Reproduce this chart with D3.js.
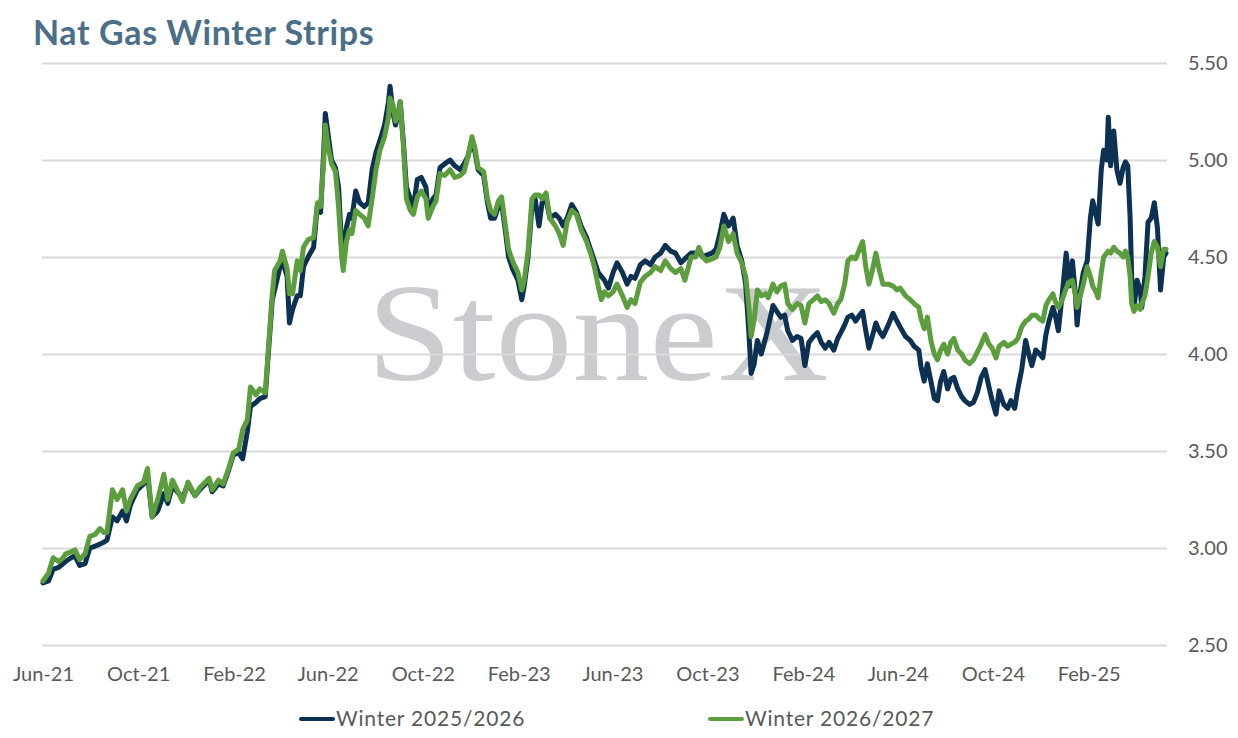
<!DOCTYPE html>
<html>
<head>
<meta charset="utf-8">
<script src="https://cdn.jsdelivr.net/npm/d3@7"></script>
<style>
  body { margin: 0; background: #fff; }
  #chart { width: 1238px; height: 738px; }
  .tick text { font-family: Lato, "Open Sans", sans-serif; fill: #595959; }
</style>
</head>
<body>
<div id="chart"></div>
<script>
// dates of the readings (daily prices at irregular points)
const dates = [
  "2021-06-01","2021-06-08","2021-06-14","2021-06-21","2021-06-27","2021-06-30","2021-07-07","2021-07-12","2021-07-18","2021-07-25","2021-07-31",
  "2021-08-07","2021-08-13","2021-08-18","2021-08-22","2021-08-29","2021-09-04","2021-09-11","2021-09-16","2021-09-21","2021-09-30",
  "2021-10-08","2021-10-13","2021-10-19","2021-10-26","2021-11-03","2021-11-08","2021-11-14","2021-11-20","2021-11-27",
  "2021-12-04","2021-12-13","2021-12-19","2021-12-31",
  "2022-01-04","2022-01-12","2022-01-18","2022-01-25","2022-01-31","2022-02-07","2022-02-12","2022-02-18","2022-02-22",
  "2022-03-01","2022-03-06","2022-03-13","2022-03-16","2022-03-22","2022-03-25","2022-04-01","2022-04-04","2022-04-10","2022-04-13","2022-04-17","2022-04-23","2022-04-27",
  "2022-05-01","2022-05-07","2022-05-14","2022-05-19","2022-05-23","2022-05-27","2022-05-29","2022-06-02","2022-06-06","2022-06-11","2022-06-15","2022-06-19","2022-06-21","2022-06-25","2022-06-29",
  "2022-07-02","2022-07-07","2022-07-12","2022-07-18","2022-07-23","2022-07-28","2022-08-02","2022-08-07","2022-08-13","2022-08-18","2022-08-20","2022-08-24","2022-08-27","2022-08-31",
  "2022-09-02","2022-09-06","2022-09-10","2022-09-15","2022-09-19","2022-09-24","2022-09-29","2022-10-05","2022-10-08","2022-10-14","2022-10-18","2022-10-23","2022-10-29",
  "2022-11-05","2022-11-11","2022-11-18","2022-11-23","2022-11-28","2022-12-03","2022-12-07","2022-12-11","2022-12-18","2022-12-23","2022-12-27",
  "2023-01-01","2023-01-06","2023-01-10","2023-01-15","2023-01-19","2023-01-24","2023-01-31","2023-02-05","2023-02-08","2023-02-13","2023-02-18","2023-02-22","2023-02-27",
  "2023-03-03","2023-03-08","2023-03-13","2023-03-20","2023-03-25","2023-03-30","2023-04-04","2023-04-10","2023-04-16","2023-04-22","2023-04-29",
  "2023-05-04","2023-05-09","2023-05-14","2023-05-18","2023-05-22","2023-05-27","2023-06-02","2023-06-07","2023-06-14","2023-06-20","2023-06-25","2023-06-30",
  "2023-07-07","2023-07-13","2023-07-20","2023-07-26","2023-08-02","2023-08-08","2023-08-15","2023-08-21","2023-08-28",
  "2023-09-02","2023-09-10","2023-09-16","2023-09-20","2023-09-25","2023-09-30","2023-10-07","2023-10-12","2023-10-17","2023-10-22","2023-10-28",
  "2023-11-03","2023-11-08","2023-11-14","2023-11-19","2023-11-23","2023-11-26","2023-11-30","2023-12-04","2023-12-09","2023-12-15","2023-12-18","2023-12-24","2023-12-29",
  "2024-01-03","2024-01-08","2024-01-12","2024-01-18","2024-01-24","2024-01-29","2024-02-03","2024-02-08","2024-02-14","2024-02-19","2024-02-24","2024-02-29",
  "2024-03-05","2024-03-11","2024-03-16","2024-03-20","2024-03-25","2024-03-29","2024-04-03","2024-04-08","2024-04-13","2024-04-17","2024-04-21","2024-04-25","2024-04-30",
  "2024-05-04","2024-05-08","2024-05-13","2024-05-20","2024-05-26","2024-05-31","2024-06-04","2024-06-11","2024-06-17","2024-06-22","2024-06-28",
  "2024-07-01","2024-07-05","2024-07-09","2024-07-14","2024-07-18","2024-07-22","2024-07-26","2024-07-30","2024-08-04","2024-08-08","2024-08-12","2024-08-17","2024-08-22","2024-08-26",
  "2024-09-01","2024-09-06","2024-09-11","2024-09-16","2024-09-21","2024-09-26","2024-09-30","2024-10-05","2024-10-09","2024-10-15","2024-10-20","2024-10-24","2024-10-29",
  "2024-11-02","2024-11-07","2024-11-12","2024-11-16","2024-11-20","2024-11-25","2024-11-30","2024-12-04","2024-12-08","2024-12-12","2024-12-17","2024-12-20","2024-12-24","2024-12-29",
  "2025-01-03","2025-01-07","2025-01-11","2025-01-15","2025-01-17","2025-01-21","2025-01-25","2025-01-30","2025-02-03","2025-02-06","2025-02-10","2025-02-13","2025-02-17","2025-02-20","2025-02-24","2025-02-26",
  "2025-03-01","2025-03-05","2025-03-09","2025-03-13","2025-03-17","2025-03-20","2025-03-23","2025-03-26","2025-03-28","2025-03-31",
  "2025-04-04","2025-04-08","2025-04-10","2025-04-14","2025-04-18","2025-04-22","2025-04-26","2025-04-30","2025-05-04","2025-05-08","2025-05-11"
];

// Winter 2025/2026 strip ($/MMBtu)
const winter2526 = [
  2.82,2.83,2.89,2.90,2.92,2.93,2.95,2.96,2.91,2.92,3.00,
  3.01,3.02,3.03,3.04,3.16,3.14,3.19,3.14,3.22,3.30,
  3.33,3.38,3.16,3.19,3.28,3.23,3.32,3.29,3.26,
  3.33,3.27,3.30,3.35,
  3.29,3.33,3.32,3.40,3.48,3.49,3.46,3.60,3.73,
  3.75,3.77,3.78,3.95,4.28,4.33,4.45,4.48,4.40,4.16,4.23,4.30,4.30,
  4.45,4.50,4.55,4.77,4.73,5.05,5.24,5.12,5.00,4.96,4.86,4.55,4.55,4.65,4.72,
  4.70,4.84,4.78,4.76,4.78,4.95,5.04,5.10,5.18,5.30,5.38,5.24,5.18,5.25,
  5.30,5.10,4.86,4.80,4.76,4.90,4.91,4.86,4.73,4.80,4.82,4.96,4.98,
  5.00,4.97,4.95,4.98,5.02,5.10,5.04,4.95,4.92,4.78,4.70,
  4.70,4.76,4.78,4.63,4.50,4.44,4.38,4.28,4.35,4.50,4.76,4.80,4.66,
  4.78,4.80,4.70,4.72,4.70,4.66,4.70,4.77,4.73,4.66,4.60,
  4.54,4.48,4.42,4.40,4.38,4.34,4.42,4.47,4.42,4.36,4.40,4.39,
  4.46,4.48,4.46,4.50,4.52,4.56,4.53,4.52,4.47,
  4.49,4.52,4.52,4.53,4.50,4.51,4.52,4.54,4.62,4.72,4.66,
  4.70,4.56,4.48,4.36,4.12,3.90,3.95,4.07,4.00,4.09,4.14,4.25,4.22,
  4.19,4.20,4.12,4.07,4.09,4.08,3.94,4.06,4.09,4.11,4.06,4.03,
  4.06,4.02,4.08,4.11,4.15,4.19,4.20,4.17,4.20,4.22,4.12,4.03,4.10,
  4.16,4.12,4.09,4.15,4.21,4.17,4.14,4.09,4.07,4.04,4.02,
  3.93,3.86,3.95,3.85,3.77,3.76,3.86,3.91,3.82,3.87,3.88,3.82,3.78,3.76,
  3.74,3.75,3.80,3.88,3.92,3.83,3.76,3.69,3.81,3.74,3.72,3.76,3.72,
  3.82,3.92,4.07,4.00,3.94,4.02,4.00,3.98,4.10,4.17,4.24,4.20,4.12,4.31,
  4.52,4.35,4.48,4.30,4.15,4.32,4.42,4.48,4.70,4.79,4.72,4.67,4.95,5.05,5.00,5.22,
  4.97,5.15,4.95,4.88,4.96,4.99,4.97,4.70,4.40,4.24,
  4.38,4.33,4.24,4.40,4.68,4.70,4.78,4.65,4.33,4.50,4.52
];

// Winter 2026/2027 strip ($/MMBtu)
const winter2627 = [
  2.83,2.87,2.95,2.93,2.95,2.97,2.98,2.99,2.94,2.97,3.06,
  3.07,3.10,3.08,3.08,3.30,3.25,3.30,3.19,3.25,3.32,
  3.34,3.41,3.16,3.25,3.38,3.25,3.35,3.30,3.24,
  3.34,3.27,3.31,3.36,
  3.30,3.35,3.33,3.41,3.49,3.51,3.61,3.66,3.83,
  3.79,3.82,3.80,3.97,4.31,4.43,4.48,4.53,4.44,4.31,4.31,4.48,4.43,
  4.55,4.59,4.60,4.78,4.76,5.00,5.18,5.06,4.98,4.94,4.76,4.50,4.43,4.58,4.64,
  4.62,4.74,4.72,4.70,4.66,4.80,4.95,5.05,5.12,5.22,5.32,5.28,5.20,5.24,
  5.30,5.08,4.80,4.74,4.72,4.81,4.84,4.80,4.70,4.76,4.79,4.93,4.92,
  4.95,4.91,4.92,4.94,5.02,5.12,5.06,4.96,4.94,4.80,4.74,
  4.72,4.79,4.81,4.66,4.54,4.48,4.42,4.33,4.38,4.53,4.80,4.82,4.82,
  4.80,4.83,4.70,4.66,4.62,4.56,4.68,4.74,4.72,4.64,4.58,
  4.52,4.45,4.35,4.28,4.32,4.30,4.32,4.36,4.30,4.24,4.28,4.26,
  4.37,4.40,4.42,4.45,4.43,4.48,4.44,4.42,4.44,
  4.38,4.50,4.50,4.55,4.50,4.48,4.49,4.50,4.55,4.66,4.58,
  4.62,4.52,4.47,4.40,4.25,4.09,4.18,4.33,4.30,4.31,4.29,4.36,4.32,
  4.35,4.36,4.26,4.23,4.26,4.25,4.16,4.26,4.28,4.30,4.27,4.28,
  4.26,4.21,4.26,4.28,4.36,4.48,4.50,4.49,4.54,4.58,4.45,4.36,4.44,
  4.52,4.44,4.36,4.36,4.35,4.33,4.34,4.30,4.28,4.26,4.24,
  4.18,4.13,4.19,4.06,4.00,3.97,4.02,4.05,4.00,4.06,4.08,4.02,4.00,3.97,
  3.95,3.97,4.01,4.05,4.10,4.05,4.03,3.98,4.04,4.06,4.04,4.05,4.06,
  4.08,4.14,4.17,4.18,4.20,4.20,4.18,4.17,4.25,4.28,4.31,4.27,4.24,4.28,
  4.34,4.37,4.38,4.30,4.24,4.30,4.36,4.45,4.40,4.35,4.32,4.29,4.42,4.50,4.52,4.53,
  4.52,4.55,4.53,4.52,4.50,4.53,4.50,4.40,4.26,4.22,
  4.25,4.23,4.26,4.30,4.40,4.52,4.58,4.55,4.45,4.54,4.54
];

const seriesNames = ["Winter 2025/2026", "Winter 2026/2027"];
const xTickDates = ["2021-06-01","2021-10-01","2022-02-01","2022-06-01","2022-10-01","2023-02-01",
                    "2023-06-01","2023-10-01","2024-02-01","2024-06-01","2024-10-01","2025-02-01"];
const yTicks = [2.5, 3.0, 3.5, 4.0, 4.5, 5.0, 5.5];

const width = 1238;
const height = 738;
const margin = {top: 63, left: 42, right: 71, bottom: 93};
const colors = ["#0c3152", "#5c9d3e"];

const parse = d3.timeParse("%Y-%m-%d");

const svg = d3.select("#chart")
  .append("svg")
  .attr("width", width)
  .attr("height", height);

// title
svg.append("text")
  .attr("x", 33)
  .attr("y", 45)
  .style("font-family", "Lato, sans-serif")
  .style("font-weight", 700)
  .style("font-size", "34px")
  .style("letter-spacing", "0.6px")
  .style("fill", "#4b6f88")
  .text("Nat Gas Winter Strips");

const xScale = d3.scaleTime()
  .domain([parse(dates[0]), parse(dates[dates.length - 1])])
  .range([margin.left + 1, width - margin.right - 1]);

const yScale = d3.scaleLinear()
  .domain([2.5, 5.5])
  .range([height - margin.bottom, margin.top]);

// watermark sits behind everything
svg.append("text")
  .attr("transform", "translate(367,380) scale(1.1,1)")
  .style("font-family", "'Liberation Serif', 'DejaVu Serif', serif")
  .style("font-size", "140px")
  .style("fill", "#cbccd0")
  .text("StoneX");
svg.append("text")
  .attr("x", 828)
  .attr("y", 308)
  .style("font-family", "'Liberation Sans', sans-serif")
  .style("font-size", "14px")
  .style("fill", "#cbccd0")
  .text("\u00AE");

// y axis on the right with gridlines
const yAxis = svg.append("g")
  .attr("transform", `translate(${width - margin.right},0)`)
  .call(d3.axisRight(yScale)
    .tickValues(yTicks)
    .tickSize(-(width - margin.right - margin.left))
    .tickPadding(21)
    .tickFormat(d3.format(".2f")));
yAxis.select(".domain").remove();
yAxis.selectAll(".tick line").attr("stroke", "#d9d9d9").attr("stroke-width", 2);
yAxis.selectAll(".tick text").style("font-size", "20px");

// x axis labels
const xAxis = svg.append("g")
  .attr("transform", `translate(0,${height - margin.bottom})`)
  .call(d3.axisBottom(xScale)
    .tickValues(xTickDates.map(parse))
    .tickSize(0)
    .tickPadding(22)
    .tickFormat(d3.timeFormat("%b-%y")));
xAxis.select(".domain").remove();
xAxis.selectAll(".tick text").style("font-size", "20px");

// lines
const series = [winter2526, winter2627].map(function(vals, i) {
  return {
    name: seriesNames[i],
    color: colors[i],
    values: dates.map(function(d, j) { return {date: parse(d), value: vals[j]}; })
  };
});

const line = d3.line()
  .x(function(d) { return xScale(d.date); })
  .y(function(d) { return yScale(d.value); });

svg.selectAll(".series")
  .data(series)
  .enter()
  .append("path")
    .attr("class", "series")
    .attr("d", function(d) { return line(d.values); })
    .attr("fill", "none")
    .attr("stroke", function(d) { return d.color; })
    .attr("stroke-width", 5)
    .attr("stroke-linejoin", "round")
    .attr("stroke-linecap", "round");

// legend
const legendX = [300, 709];
const legend = svg.selectAll(".legend")
  .data(series)
  .enter()
  .append("g")
    .attr("class", "legend")
    .attr("transform", function(d, i) { return `translate(${legendX[i]},719)`; });

legend.append("line")
  .attr("x1", 1).attr("x2", 33)
  .attr("stroke", function(d) { return d.color; })
  .attr("stroke-width", 4)
  .attr("stroke-linecap", "round");

legend.append("text")
  .attr("x", 36)
  .attr("dy", "0.35em")
  .style("font-family", "Lato, sans-serif")
  .style("font-size", "21px")
  .style("letter-spacing", "0.8px")
  .style("fill", "#595959")
  .text(function(d) { return d.name; });
</script>
</body>
</html>
